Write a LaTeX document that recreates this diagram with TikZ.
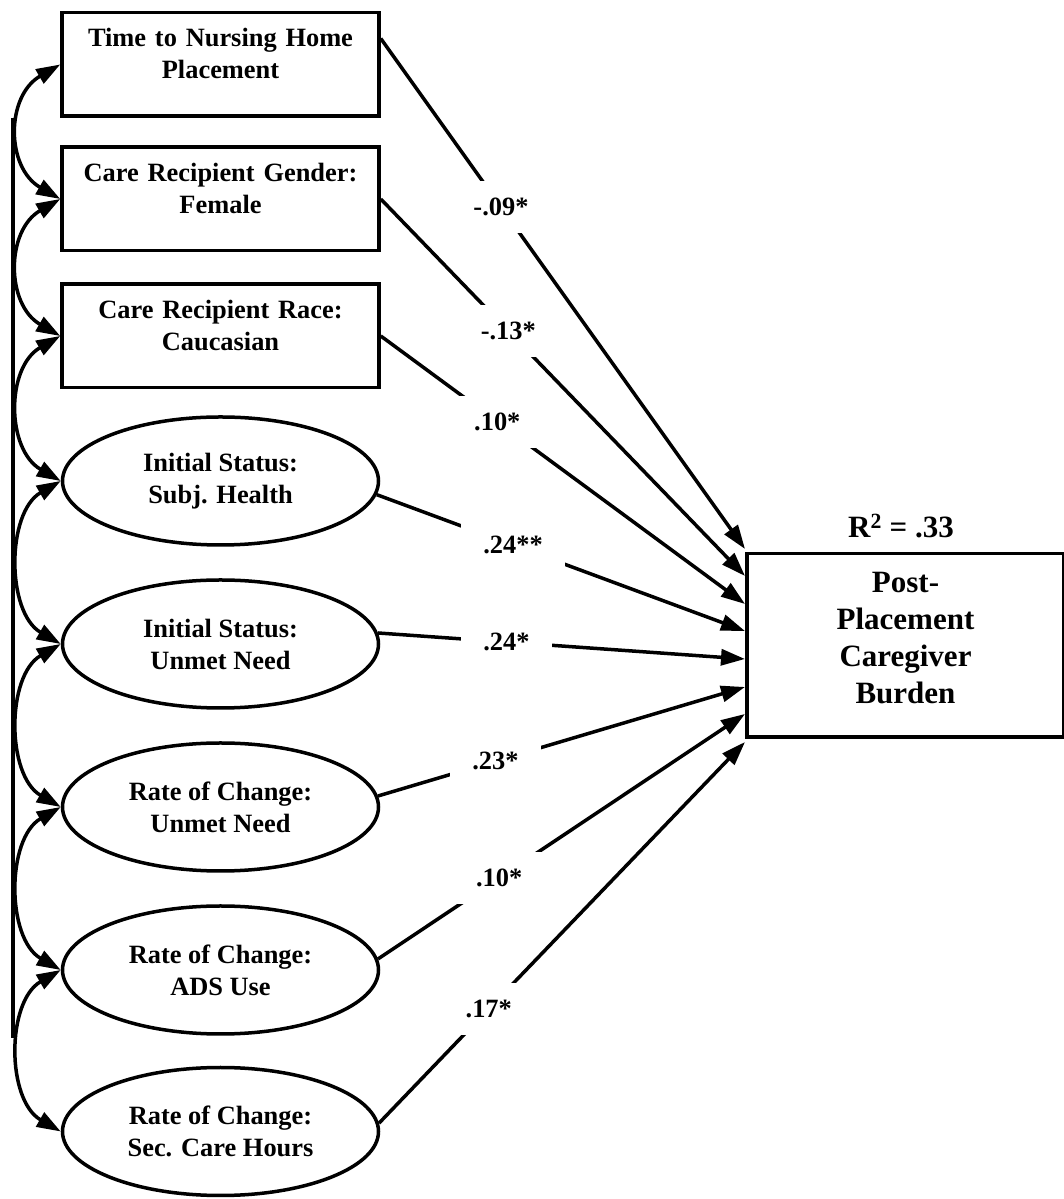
\documentclass[tikz,border=0pt]{standalone}
\usepackage{fontspec}
\setmainfont{Liberation Serif}
\usepackage{tikz}
\usetikzlibrary{shapes,arrows.meta}
\tikzstyle{obs} = [rectangle, draw, line width=3.5pt, inner sep=0pt, minimum width=317pt, text width=310pt, align=center, text height=34pt, text depth=69.5pt]
\tikzstyle{lat} = [ellipse, draw, line width=3.5pt, inner sep=0pt, minimum width=316pt, minimum height=128pt, align=center]
\tikzstyle{dv} = [rectangle, draw, line width=3.5pt, inner sep=0pt, minimum width=317pt, text width=310pt, align=center, text height=39pt, text depth=144.5pt, font=\fontsize{31}{37}\selectfont\bfseries]
\tikzstyle{coef} = [fill=white, inner xsep=22pt, inner ysep=17pt]
\tikzstyle{line} = [draw, line width=3.5pt, -{Triangle[length=24pt,width=16pt]}]
\tikzstyle{corr} = [draw, line width=3.5pt, {Triangle[length=24pt,width=16pt]}-{Triangle[length=24pt,width=16pt]}]

\begin{document}
\begin{tikzpicture}[x=1pt, y=1pt, font=\fontsize{26.4}{32}\selectfont\bfseries]
        \useasboundingbox (0, 0) rectangle (1063, 1199);
        % Place nodes
        \node at (220.5, 1134.5) [obs] (tnh) {Time to Nursing Home\\Placement};
        \node at (220.5, 1000) [obs] (gen) {Care Recipient Gender:\\Female};
        \node at (220.5, 863) [obs] (race) {Care Recipient Race:\\Caucasian};
        \node at (220.5, 718) [lat] (ish) {Initial Status:\\Subj. Health};
        \node at (220.5, 555) [lat] (isu) {Initial Status:\\Unmet Need};
        \node at (220.5, 392) [lat] (rcu) {Rate of Change:\\Unmet Need};
        \node at (220.5, 229) [lat] (rca) {Rate of Change:\\ADS Use};
        \node at (220.5, 67.5) [lat] (rcs) {Rate of Change:\\Sec. Care Hours};
        \node at (905.5, 553.5) [dv] (post) {Post-\\Placement\\Caregiver\\Burden};
        \node at (901, 673) [font=\fontsize{31}{37}\selectfont\bfseries] (rsq) {R\textsuperscript{2} = .33};
        \coordinate (vtop) at (13, 1081);
        \coordinate (vbot) at (13, 161);
        \coordinate (p1) at (745, 650);
        \coordinate (p2) at (745, 623);
        \coordinate (p3) at (745, 595);
        \coordinate (p4) at (745, 568);
        \coordinate (p5) at (745, 540);
        \coordinate (p6) at (745, 512);
        \coordinate (p7) at (745, 485);
        \coordinate (p8) at (745, 457);

        % Draw edges
        \path [line] ([yshift=26pt]tnh.east) -- node [coef, pos=0.33] {-.09*} (p1);
        \path [line] (gen.east) -- node [coef, pos=0.35] {-.13*} (p2);
        \path [line] (race.east) -- node [coef, pos=0.32] {.10*} (p3);
        \path [line] (ish.-5) -- node [coef, pos=0.37] {.24**} (p4);
        \path [line] (isu.4) -- node [coef, pos=0.35] {.24*} (p5);
        \path [line] (rcu.4) -- node [coef, pos=0.32] {.23*} (p6);
        \path [line] (rca.4) -- node [coef, pos=0.33] {.10*} (p7);
        \path [line] (rcs.3) -- node [coef, pos=0.3] {.17*} (p8);

        % Correlations
        \draw [line width=3.5pt] (vtop) -- (vbot);
        \path [corr] (tnh.west) to [out=210, in=150, distance=63pt] (gen.west);
        \path [corr] (gen.west) to [out=210, in=150, distance=63pt] (race.west);
        \path [corr] (race.west) to [out=210, in=150, distance=63pt] (ish.west);
        \path [corr] (ish.west) to [out=210, in=150, distance=63pt] (isu.west);
        \path [corr] (isu.west) to [out=210, in=150, distance=63pt] (rcu.west);
        \path [corr] (rcu.west) to [out=210, in=150, distance=63pt] (rca.west);
        \path [corr] (rca.west) to [out=210, in=150, distance=63pt] (rcs.west);
    \end{tikzpicture}
\end{document}
